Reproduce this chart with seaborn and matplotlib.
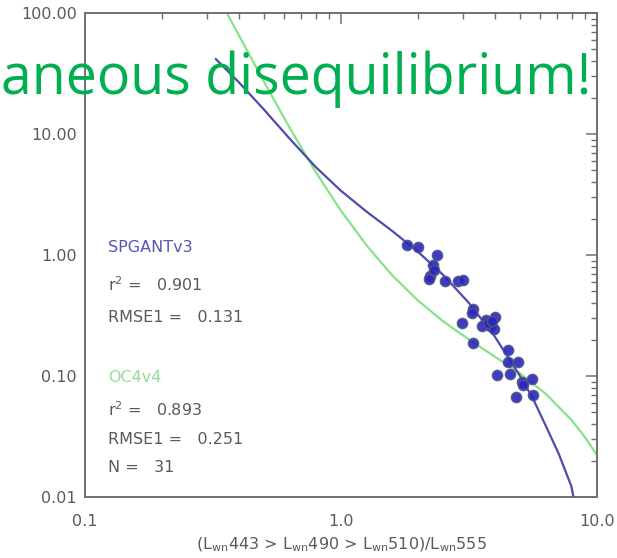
import matplotlib
matplotlib.use("Agg")
import matplotlib.pyplot as plt
import seaborn as sns
import pandas as pd
from matplotlib.ticker import LogLocator, FixedLocator, NullFormatter

# ---- data ----
ratio_obs = [1.815, 2.00, 2.38, 2.28, 2.23, 2.21, 2.55, 2.87, 2.99, 3.29, 3.24,
             2.96, 3.68, 4.00, 3.55, 3.82, 3.96, 3.29, 4.51, 4.48, 4.93, 4.06,
             4.57, 5.56, 5.08, 5.15, 4.83, 5.64, 3.75, 3.89, 2.31]
chl_obs = [1.21, 1.16, 1.00, 0.826, 0.670, 0.629, 0.610, 0.610, 0.621, 0.356, 0.330,
           0.276, 0.290, 0.306, 0.259, 0.259, 0.243, 0.186, 0.164, 0.131, 0.131, 0.102,
           0.104, 0.0944, 0.0887, 0.0843, 0.0675, 0.0697, 0.274, 0.285, 0.751]

spgant_x = [0.324, 0.398, 0.501, 0.631, 0.794, 1.0, 1.259, 1.585, 1.995, 2.512,
            3.162, 3.981, 5.012, 5.623, 6.310, 7.079, 7.943, 8.09]
spgant_y = [41.7, 26.9, 15.85, 9.12, 5.37, 3.39, 2.28, 1.58, 1.067, 0.681,
            0.401, 0.213, 0.0995, 0.0650, 0.0387, 0.0229, 0.01225, 0.0100]

oc4_x = [0.355, 0.398, 0.501, 0.631, 0.794, 1.0, 1.259, 1.585, 1.995, 2.512,
         3.162, 3.981, 5.012, 6.310, 7.943, 8.913, 10.0]
oc4_y = [103.5, 66.2, 26.9, 11.2, 4.91, 2.32, 1.20, 0.679, 0.422, 0.282,
         0.200, 0.145, 0.105, 0.0711, 0.0434, 0.0318, 0.0222]

ytick_vals = [0.01, 0.1, 1.0, 10.0, 100.0]
ytick_labels = ["0.01", "0.10", "1.00", "10.00", "100.00"]
xtick_vals = [0.1, 1.0, 10.0]
xtick_labels = ["0.1", "1.0", "10.0"]

stats_spgant = ["r$^2$ =   0.901", "RMSE1 =   0.131"]
stats_oc4 = ["r$^2$ =   0.893", "RMSE1 =   0.251", "N =   31"]

# ---- figure ----
sns.set_style("white")
plt.rcParams['font.family'] = ['DejaVu Sans']

fig = plt.figure(figsize=(6.17, 5.58), dpi=100)
ax = fig.add_axes([85/617, 1-497/558, (597-85)/617, (497-13)/558])

df_obs = pd.DataFrame({"ratio": ratio_obs, "chl": chl_obs})
df_sp = pd.DataFrame({"ratio": spgant_x, "chl": spgant_y})
df_oc = pd.DataFrame({"ratio": oc4_x, "chl": oc4_y})

ax.set_xscale("log")
ax.set_yscale("log")

sns.lineplot(data=df_oc, x="ratio", y="chl", ax=ax, sort=False, estimator=None,
             color="#86e486", linewidth=1.6, zorder=2)
sns.lineplot(data=df_sp, x="ratio", y="chl", ax=ax, sort=False, estimator=None,
             color="#4c4cae", linewidth=1.6, zorder=3)
sns.scatterplot(data=df_obs, x="ratio", y="chl", ax=ax, s=52,
                color="#2626c0", edgecolor="#50508a", linewidth=1.2, alpha=0.9, zorder=4)

ax.set_xlim(0.1, 10.0)
ax.set_ylim(0.01, 100.0)

ax.xaxis.set_major_locator(FixedLocator(xtick_vals))
ax.set_xticklabels(xtick_labels)
ax.yaxis.set_major_locator(FixedLocator(ytick_vals))
ax.set_yticklabels(ytick_labels)
ax.xaxis.set_minor_locator(LogLocator(base=10, subs=range(2, 10)))
ax.yaxis.set_minor_locator(LogLocator(base=10, subs=range(2, 10)))
ax.xaxis.set_minor_formatter(NullFormatter())
ax.yaxis.set_minor_formatter(NullFormatter())

ax.tick_params(which="both", direction="in", top=True, right=True, color="#707070",
               labelcolor="#5a5a5a", labelsize=11.5)
ax.tick_params(which="major", length=8, width=1.1)
ax.tick_params(which="minor", length=4, width=1.0)
ax.tick_params(axis="x", pad=12)
ax.tick_params(axis="y", pad=6)
for sp in ax.spines.values():
    sp.set_color("#707070")
    sp.set_linewidth(1.4)

ax.set_xlabel("(L$_{\\mathrm{wn}}$443 > L$_{\\mathrm{wn}}$490 > L$_{\\mathrm{wn}}$510)/L$_{\\mathrm{wn}}$555",
              fontsize=11.5, color="#5a5a5a", labelpad=5)
ax.set_ylabel("")

def px(xp, yp):
    return (xp / 617, 1 - yp / 558)

fig.text(*px(108, 247), "SPGANTv3", color="#5555b5", fontsize=11.5, va="center")
fig.text(*px(108, 285), stats_spgant[0], color="#5a5a5a", fontsize=11.5, va="center")
fig.text(*px(108, 318), stats_spgant[1], color="#5a5a5a", fontsize=11.5, va="center")
fig.text(*px(108, 378), "OC4v4", color="#96dc96", fontsize=11.5, va="center")
fig.text(*px(108, 410), stats_oc4[0], color="#5a5a5a", fontsize=11.5, va="center")
fig.text(*px(108, 440), stats_oc4[1], color="#5a5a5a", fontsize=11.5, va="center")
fig.text(*px(108, 467), stats_oc4[2], color="#5a5a5a", fontsize=11.5, va="center")

fig.text(*px(1, 94), "aneous disequilibrium!", color="#00b050", fontsize=40,
         family="Open Sans", va="baseline", ha="left")

fig.savefig("out.png", dpi=100)
